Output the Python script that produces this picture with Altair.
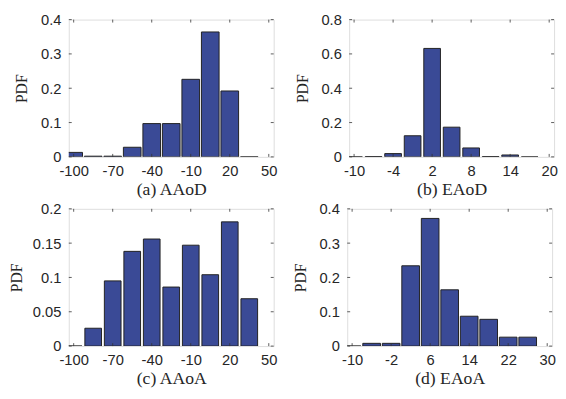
import altair as alt
import pandas as pd

# ---- data ----
a_centers = [-100, -85, -70, -55, -40, -25, -10, 5, 20, 35]
a_values = [0.013, 0.002, 0.002, 0.028, 0.097, 0.097, 0.226, 0.364, 0.192, 0.0]
a_xticks = [-100, -70, -40, -10, 20, 50]
a_yticks = [0, 0.1, 0.2, 0.3, 0.4]

b_centers = [-10, -7, -4, -1, 2, 5, 8, 11, 14, 17]
b_values = [0.0, 0.002, 0.019, 0.123, 0.632, 0.173, 0.052, 0.002, 0.011, 0.0]
b_xticks = [-10, -4, 2, 8, 14, 20]
b_yticks = [0, 0.2, 0.4, 0.6, 0.8]

c_centers = [-100, -85, -70, -55, -40, -25, -10, 5, 20, 35]
c_values = [0.0, 0.026, 0.095, 0.138, 0.156, 0.086, 0.147, 0.104, 0.181, 0.069]
c_xticks = [-100, -70, -40, -10, 20, 50]
c_yticks = [0, 0.05, 0.1, 0.15, 0.2]

d_centers = [-10, -6, -2, 2, 6, 10, 14, 18, 22, 26]
d_values = [0.0, 0.008, 0.008, 0.234, 0.372, 0.164, 0.087, 0.078, 0.026, 0.026]
d_xticks = [-10, -2, 6, 14, 22, 30]
d_yticks = [0, 0.1, 0.2, 0.3, 0.4]

W, H = 209, 140
BAR_COLOR = "#3a4a96"
AXIS_COLOR = "#333333"
TEXT_COLOR = "#262626"
SANS = "Liberation Sans"
SERIF = "Liberation Serif"


def panel(centers, values, xticks, yticks, title, bar_w, ytitle_pad=11):
    df = pd.DataFrame({"x": centers, "y": values})
    xdom = [xticks[0], xticks[-1]]
    ydom = [yticks[0], yticks[-1]]
    xs = alt.Scale(domain=xdom, nice=False, zero=False)
    ys = alt.Scale(domain=ydom, nice=False)
    xaxis = alt.Axis(
        values=xticks, title=title, ticks=False, domain=False, grid=False,
        labelExpr="'' + datum.value", labelOverlap=False,
        labelFont=SANS, labelFontSize=15, labelColor=TEXT_COLOR, labelPadding=7,
        titleFont=SERIF, titleFontSize=18, titleFontWeight="normal",
        titleColor=TEXT_COLOR, titlePadding=2, labelFlush=False)
    yaxis = alt.Axis(
        values=yticks, format="~g", title="PDF", ticks=False, domain=False,
        grid=False, labelOverlap=False, labelFont=SANS, labelFontSize=15,
        labelColor=TEXT_COLOR, labelPadding=8, titleFont=SERIF,
        titleFontSize=16, titleFontWeight="normal", titleColor=TEXT_COLOR,
        titlePadding=ytitle_pad, labelFlush=False)
    bars = alt.Chart(df).mark_bar(
        width=bar_w, color=BAR_COLOR, stroke="#222222", strokeWidth=1, clip=True
    ).encode(
        x=alt.X("x:Q", scale=xs, axis=xaxis),
        y=alt.Y("y:Q", scale=ys, axis=yaxis),
    )
    xt = pd.DataFrame({"t": xticks})
    yt = pd.DataFrame({"t": yticks})
    tick_x_bot = alt.Chart(xt).mark_rule(color=AXIS_COLOR, strokeWidth=0.8).encode(
        x=alt.X("t:Q", scale=xs, axis=xaxis), y=alt.value(H), y2=alt.value(H - 3))
    tick_x_top = alt.Chart(xt).mark_rule(color=AXIS_COLOR, strokeWidth=0.8).encode(
        x=alt.X("t:Q", scale=xs, axis=xaxis), y=alt.value(0), y2=alt.value(3))
    tick_y_left = alt.Chart(yt).mark_rule(color=AXIS_COLOR, strokeWidth=0.8).encode(
        y=alt.Y("t:Q", scale=ys, axis=yaxis), x=alt.value(0), x2=alt.value(3))
    tick_y_right = alt.Chart(yt).mark_rule(color=AXIS_COLOR, strokeWidth=0.8).encode(
        y=alt.Y("t:Q", scale=ys, axis=yaxis), x=alt.value(W), x2=alt.value(W - 3))
    return alt.layer(bars, tick_x_bot, tick_x_top, tick_y_left, tick_y_right).properties(
        width=W, height=H)


pa = panel(a_centers, a_values, a_xticks, a_yticks, "(a) AAoD", 18)
pb = panel(b_centers, b_values, b_xticks, b_yticks, "(b) EAoD", 17)
pc = panel(c_centers, c_values, c_xticks, c_yticks, "(c) AAoA", 17, ytitle_pad=8)
pd_ = panel(d_centers, d_values, d_xticks, d_yticks, "(d) EAoA", 18)

top = alt.hconcat(pa, pb, spacing=16)
bottom = alt.hconcat(pc, pd_, spacing=14)
chart = alt.vconcat(top, bottom, spacing=2).configure_view(
    stroke=AXIS_COLOR, strokeWidth=1
).configure(background="white", padding=0)

chart.save("out.html", embed_options={"renderer": "svg", "actions": False})
